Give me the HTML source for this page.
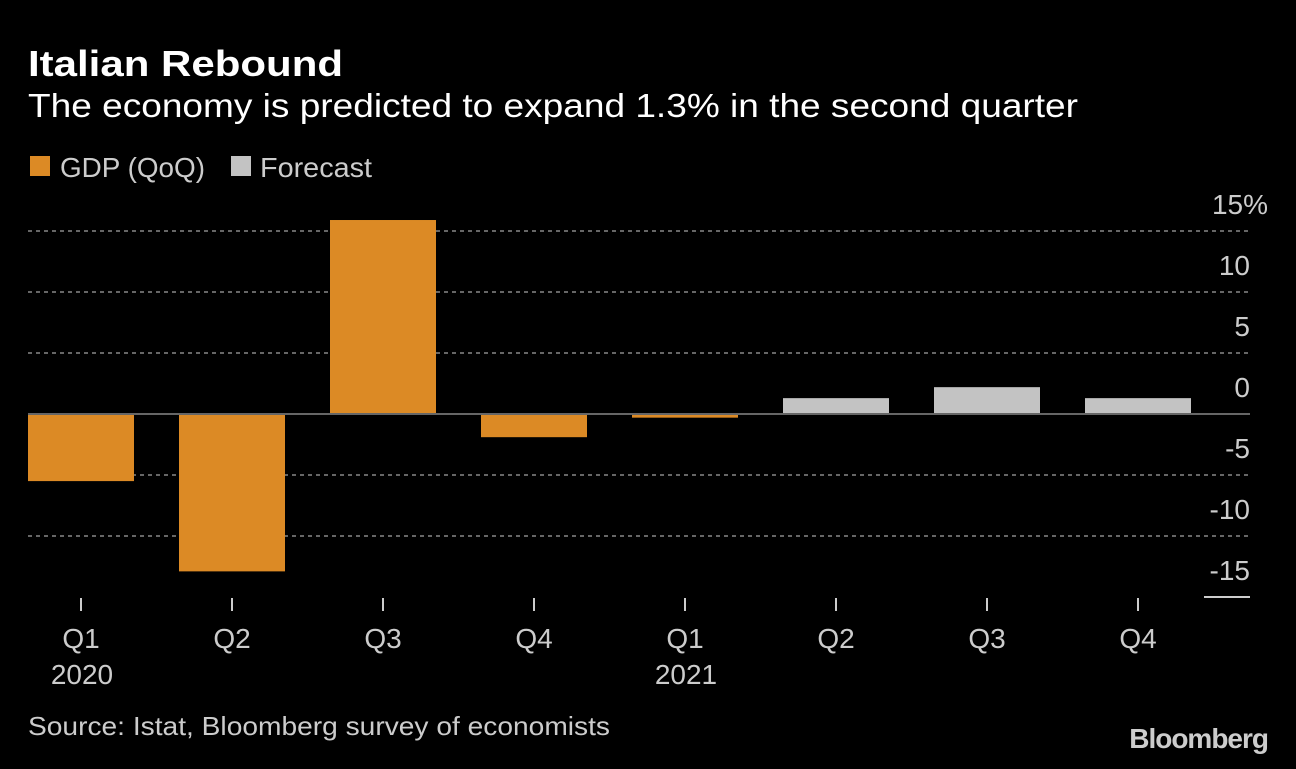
<!DOCTYPE html>
<html><head><meta charset="utf-8"><style>
body{margin:0;background:#000;width:1296px;height:764px;overflow:hidden;font-family:"Liberation Sans",sans-serif;}
</style></head><body>
<svg width="1296" height="764" xmlns="http://www.w3.org/2000/svg" font-family="Liberation Sans, sans-serif">
<text x="28" y="76" fill="#fff" font-size="36" font-weight="bold" textLength="315" lengthAdjust="spacingAndGlyphs">Italian Rebound</text>
<text x="28" y="117" fill="#fff" font-size="33" textLength="1050" lengthAdjust="spacingAndGlyphs">The economy is predicted to expand 1.3% in the second quarter</text>
<g>
<rect x="30" y="156" width="20" height="20" fill="#dc8a25"/>
<text x="60" y="177" fill="#ccc" font-size="28" textLength="145" lengthAdjust="spacingAndGlyphs">GDP (QoQ)</text>
<rect x="231" y="156" width="20" height="20" fill="#c3c3c3"/>
<text x="260" y="177" fill="#ccc" font-size="28" textLength="112" lengthAdjust="spacingAndGlyphs">Forecast</text>
</g>
<g id="plot"></g>
<text x="28" y="735" fill="#ccc" font-size="26" textLength="582" lengthAdjust="spacingAndGlyphs">Source: Istat, Bloomberg survey of economists</text>
<text x="1268" y="748" fill="#ccc" font-size="28" font-weight="bold" text-anchor="end" letter-spacing="-1">Bloomberg</text>
</svg>
<script>
const categories=["Q1","Q2","Q3","Q4","Q1","Q2","Q3","Q4"];
const years=["2020","","","","2021","","",""];
const values=[-5.5,-12.9,15.9,-1.9,-0.3,1.3,2.2,1.3];
const isForecast=[false,false,false,false,false,true,true,true];
const ticks=[15,10,5,0,-5,-10,-15];
const NS="http://www.w3.org/2000/svg";
const g=document.getElementById('plot');
const y=v=>414-v*12.2;
const x=i=>81+i*151;
function mk(t,a){const e=document.createElementNS(NS,t);for(const k in a)e.setAttribute(k,a[k]);g.appendChild(e);return e;}
ticks.forEach(t=>{
 if(t!==0&&t!==-15){const l=mk('line',{x1:28,x2:1250,y1:y(t),y2:y(t),stroke:'#666','stroke-width':2,'stroke-dasharray':'4 4'});
 
 }
 const tx=mk('text',{x:1250,y:y(t)-17,fill:'#ccc','font-size':28,'text-anchor':'end'});
 tx.textContent=t+(t===15?'%':'');
 if(t===15)tx.setAttribute('x',1268);
 
 
});
const ul=mk('line',{x1:1204,x2:1250,y1:y(-15),y2:y(-15),stroke:'#ccc','stroke-width':2});


values.forEach((v,i)=>{
 const r=mk('rect',{x:x(i)-53,width:106,y:Math.min(y(v),y(0)),height:Math.abs(y(v)-y(0)),fill:isForecast[i]?'#c3c3c3':'#dc8a25'});
 
 
 const tk=mk('line',{x1:x(i),x2:x(i),y1:598,y2:611,stroke:'#ccc','stroke-width':2});
 
 
 const t=mk('text',{x:x(i),y:648,fill:'#ccc','font-size':28,'text-anchor':'middle'});t.textContent=categories[i];
 
 
 if(years[i]){const yt=mk('text',{x:x(i)+1,y:684,fill:'#ccc','font-size':28,'text-anchor':'middle'});yt.textContent=years[i];
 
 }
});
const z=mk('line',{x1:28,x2:1250,y1:y(0),y2:y(0),stroke:'#666','stroke-width':2});


</script>
</body></html>
